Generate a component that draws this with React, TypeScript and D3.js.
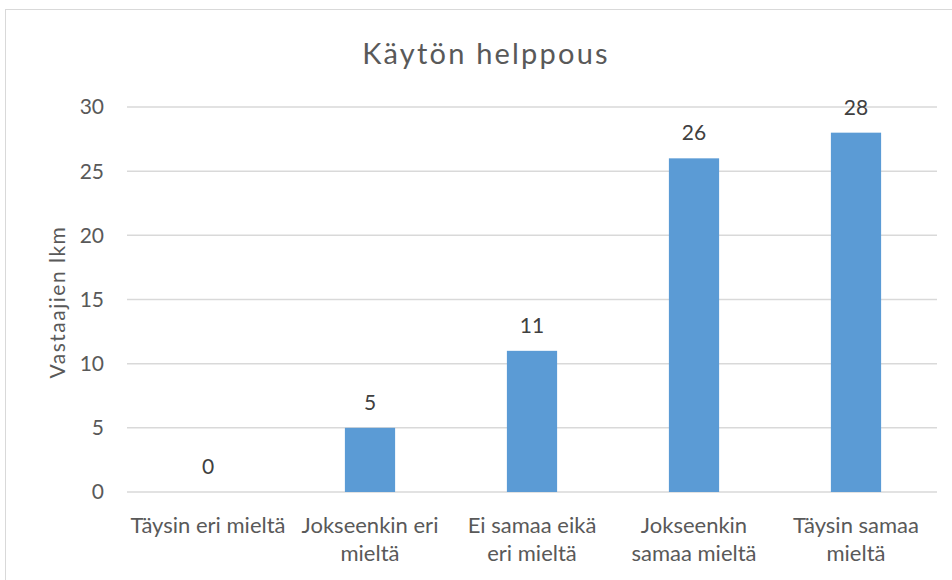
import React from "react";
import * as d3 from "d3";

const categories = [
  "Täysin eri mieltä",
  "Jokseenkin eri\nmieltä",
  "Ei samaa eikä\neri mieltä",
  "Jokseenkin\nsamaa mieltä",
  "Täysin samaa\nmieltä",
];
const values = [0, 5, 11, 26, 28];
const yTicks = [0, 5, 10, 15, 20, 25, 30];
const title = "Käytön helppous";
const yTitle = "Vastaajien lkm";

const W = 952;
const H = 580;
const FONT = "Lato, 'Open Sans', sans-serif";

export default function App() {
  const left = 127;
  const right = 937;
  const top = 107;
  const bottom = 492;

  const x = d3.scaleBand<string>().domain(categories).range([left, right]).paddingInner(0.69).paddingOuter(0.345);
  const y = d3.scaleLinear().domain([0, 30]).range([bottom, top]);

  return (
    <svg width={W} height={H} style={{ position: "absolute", left: 0, top: 0, background: "#fff" }}>
      <rect x={5.5} y={9.5} width={W + 20} height={H + 20} fill="#fff" stroke="#d9d9d9" strokeWidth={1} />
      <text x={486} y={64} textAnchor="middle" fontFamily={FONT} fontSize={29} letterSpacing={2.2} fill="#595959">
        {title}
      </text>
      {yTicks.map((t) => (
        <g key={t}>
          <line x1={left} x2={right} y1={y(t)} y2={y(t)} stroke="#d9d9d9" strokeWidth={1.5} />
          <text x={104} y={y(t)} dy="0.35em" textAnchor="end" fontFamily={FONT} fontSize={21} fill="#595959">
            {t}
          </text>
        </g>
      ))}
      <text
        transform={`translate(65,302) rotate(-90)`}
        textAnchor="middle"
        fontFamily={FONT}
        fontSize={21}
        letterSpacing={1.5}
        fill="#595959"
      >
        {yTitle}
      </text>
      {categories.map((c, i) => {
        const bx = x(c)!;
        const bw = x.bandwidth();
        const v = values[i];
        return (
          <g key={c}>
            {v > 0 && <rect x={bx} y={y(v)} width={bw} height={y(0) - y(v)} fill="#5b9bd5" />}
            <text x={bx + bw / 2} y={y(v) - 18} textAnchor="middle" fontFamily={FONT} fontSize={21} fill="#404040">
              {v}
            </text>
            <text textAnchor="middle" fontFamily={FONT} fontSize={22} fill="#595959">
              {c.split("\n").map((line, j) => (
                <tspan key={j} x={bx + bw / 2} y={533 + j * 28}>
                  {line}
                </tspan>
              ))}
            </text>
          </g>
        );
      })}
    </svg>
  );
}
